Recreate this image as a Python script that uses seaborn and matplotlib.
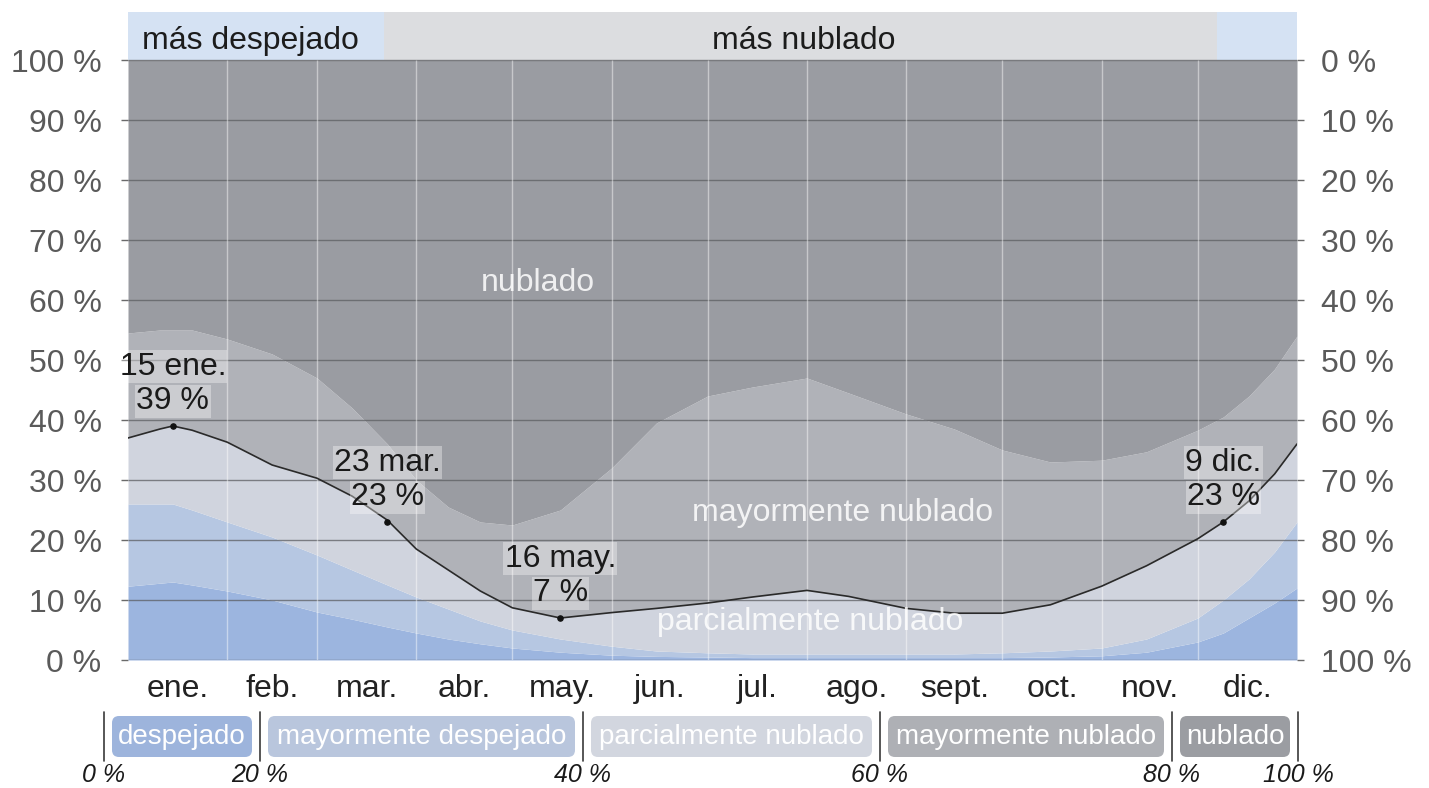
import matplotlib
matplotlib.use("Agg")
import matplotlib.pyplot as plt
import seaborn as sns
from matplotlib.patches import FancyBboxPatch

# day of year where each boundary was read
days = [0, 10, 14, 20, 31, 45, 59, 70, 81, 90, 100, 110, 120, 135, 151, 165,
        181, 195, 212, 225, 243, 258, 273, 288, 304, 318, 334, 342, 350, 358, 365]

# cumulative % (from the bottom) at the top of each cloud category
clear_top = [12.3, 12.8, 13.0, 12.5, 11.5, 10.0, 8.0, 6.8, 5.5, 4.5, 3.5, 2.7, 2.0, 1.3, 0.8, 0.6,
             0.5, 0.4, 0.4, 0.4, 0.4, 0.4, 0.4, 0.5, 0.7, 1.3, 3.0, 4.5, 7.0, 9.5, 12.0]
mostly_clear_top = [26.0, 26.0, 26.0, 25.0, 23.0, 20.5, 17.5, 15.0, 12.5, 10.5, 8.5, 6.5, 5.0, 3.5, 2.3, 1.5,
                    1.2, 1.0, 1.0, 1.0, 1.0, 1.0, 1.2, 1.5, 2.0, 3.5, 7.0, 10.0, 13.5, 18.0, 23.0]
partly_cloudy_top = [37.0, 38.5, 39.0, 38.3, 36.3, 32.5, 30.3, 27.3, 23.3, 18.5, 15.0, 11.5, 8.7, 7.0, 7.9, 8.6,
                     9.5, 10.5, 11.6, 10.6, 8.6, 7.8, 7.8, 9.2, 12.3, 15.7, 20.2, 23.0, 26.5, 31.0, 36.0]
mostly_cloudy_top = [54.5, 55.0, 55.0, 55.0, 53.5, 51.0, 47.0, 42.0, 36.0, 30.0, 25.5, 23.0, 22.5, 25.0, 32.0, 39.5,
                     44.0, 45.5, 47.0, 44.5, 41.0, 38.5, 35.0, 33.0, 33.3, 34.7, 38.3, 40.5, 44.0, 48.5, 54.0]

month_starts = [0, 31, 59, 90, 120, 151, 181, 212, 243, 273, 304, 334, 365]
month_labels = ["ene.", "feb.", "mar.", "abr.", "may.", "jun.",
                "jul.", "ago.", "sept.", "oct.", "nov.", "dic."]

extreme_days = [14, 81, 135, 342]
extreme_values = [39, 23, 7, 23]
extreme_dates = ["15 ene.", "23 mar.", "16 may.", "9 dic."]

season_edges = [0, 80, 340, 365]
season_labels = ["más despejado", "más nublado"]

category_labels = ["despejado", "mayormente despejado", "parcialmente nublado",
                   "mayormente nublado", "nublado"]
legend_ticks = ["0 %", "20 %", "40 %", "60 %", "80 %", "100 %"]

# styling
fill_colors = ["#9cb5df", "#b6c7e2", "#d0d4de", "#b0b2b8", "#9a9ca2"]
legend_colors = ["#9db4dc", "#b9c6dd", "#d2d6df", "#aeb0b5", "#9b9da2"]
season_colors = ["#d5e2f3", "#dcdde0", "#d5e2f3"]
FONT = "Liberation Sans"

sns.set_theme(style="white")
plt.rcParams["font.family"] = [FONT, "DejaVu Sans"]

W, H = 1429, 788
fig = plt.figure(figsize=(W / 100, H / 100), dpi=100)
ax = fig.add_axes([128 / W, 1 - 660 / H, 1169 / W, 648 / H])
ax.set_xlim(0, 365)
ax.set_ylim(0, 108)

layers = [[0] * len(days), clear_top, mostly_clear_top, partly_cloudy_top, mostly_cloudy_top, [100] * len(days)]
for i in range(5):
    ax.fill_between(days, layers[i], layers[i + 1], color=fill_colors[i], lw=0, zorder=1)

# season band above the plot
for i in range(3):
    ax.fill_between(season_edges[i:i + 2], 100, 108, color=season_colors[i], lw=0, zorder=1)
ax.text(4.5, 103.2, season_labels[0], ha="left", va="center", fontsize=23, color="#1c1c1c")
ax.text(211, 103.2, season_labels[1], ha="center", va="center", fontsize=23, color="#1c1c1c")

# grid
ax.hlines(range(0, 101, 10), 0, 365, color="#5d5f63", lw=1.0, alpha=0.75, zorder=2)
ax.vlines(month_starts[1:-1], 0, 100, color="white", lw=1.0, alpha=0.45, zorder=2)

sns.lineplot(x=days, y=partly_cloudy_top, color="#2a2a2a", lw=1.2, ax=ax, zorder=3)

# area labels
ax.text(128, 62.8, "nublado", ha="center", va="center", fontsize=23, color="white", alpha=0.85)
ax.text(223, 24.5, "mayormente nublado", ha="center", va="center", fontsize=23, color="white", alpha=0.85)
ax.text(213, 6.3, "parcialmente nublado", ha="center", va="center", fontsize=23, color="white", alpha=0.85)

ax.scatter(extreme_days, extreme_values, s=14, color="#111111", zorder=4)
box = dict(boxstyle="square,pad=0.04", fc="white", ec="none", alpha=0.35)
for d, v, lab in zip(extreme_days, extreme_values, extreme_dates):
    ax.annotate(f"{v} %", (d, v), xytext=(0, 7), textcoords="offset points", ha="center", va="bottom",
                fontsize=23, color="#1a1a1a", zorder=5, bbox=box)
    ax.annotate(lab, (d, v), xytext=(0, 32), textcoords="offset points", ha="center", va="bottom",
                fontsize=23, color="#1a1a1a", zorder=5, bbox=box)

for s in ax.spines.values():
    s.set_visible(False)

mids = [(month_starts[i] + month_starts[i + 1]) / 2 for i in range(12)]
ax.set_xticks(mids)
ax.set_xticklabels(month_labels)
ax.tick_params(axis="x", length=0, pad=10, labelsize=23, labelcolor="#222222")

yt = list(range(0, 101, 10))
ax.set_yticks(yt)
ax.set_yticklabels([f"{v} %" for v in yt])
ax.tick_params(axis="y", length=5, width=1, color="#6a6a6a", pad=14, labelsize=23, labelcolor="#5a5a5a")

ax2 = ax.twinx()
ax2.set_ylim(0, 108)
ax2.set_yticks(yt)
ax2.set_yticklabels([f"{100 - v} %" for v in yt])
ax2.tick_params(axis="y", length=5, width=1, color="#6a6a6a", pad=12, labelsize=23, labelcolor="#5a5a5a")
for s in ax2.spines.values():
    s.set_visible(False)
ax2.grid(False)
ax.grid(False)

# legend strip below the chart, laid out in pixel coordinates
lg = fig.add_axes([0, 0, 1, 1], zorder=-1)
lg.set_xlim(0, W)
lg.set_ylim(H, 0)
lg.axis("off")
sep_x = [104, 260, 583, 880, 1172, 1298]
for i, name in enumerate(category_labels):
    x0, x1 = sep_x[i] + 8, sep_x[i + 1] - 8
    lg.add_patch(FancyBboxPatch((x0, 716), x1 - x0, 41, boxstyle="round,pad=0,rounding_size=7",
                                fc=legend_colors[i], ec="none"))
    lg.text((x0 + x1) / 2, 737, name, ha="center", va="center", fontsize=20, color="white")
for x, lab in zip(sep_x, legend_ticks):
    lg.plot([x, x], [712, 761], color="#3a3a3a", lw=1.2)
    lg.text(x, 775, lab, ha="center", va="center", fontsize=18, style="italic", color="#1a1a1a")

fig.savefig("out.png", dpi=100)
